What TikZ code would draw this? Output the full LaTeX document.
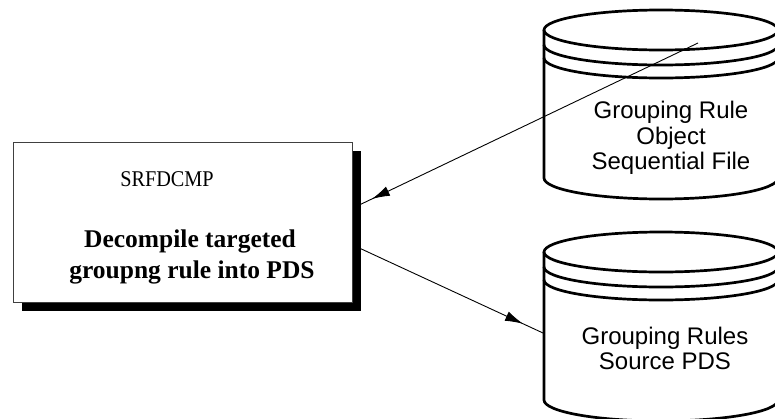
\documentclass[tikz,border=0pt]{standalone}
\usepackage{fontspec}
\setmainfont{Liberation Serif}
\newfontfamily\arialfont{Liberation Sans}
\usetikzlibrary{arrows.meta,decorations.markings}
\tikzset{
  cylline/.style={line width=2.7pt, line cap=round, line join=round},
  flowline/.style={line width=0.9pt},
  headA/.style={postaction={decorate}, decoration={markings, mark=at position -12pt with {\arrow{Latex[length=18pt,width=10pt]}}}},
  headB/.style={postaction={decorate}, decoration={markings, mark=at position -22pt with {\arrow{Latex[length=18pt,width=10pt]}}}},
  storetext/.style={font=\arialfont\fontsize{24}{25.5}\selectfont, align=center, inner sep=0pt, anchor=north},
  procbold/.style={font=\bfseries\fontsize{25.5}{31}\selectfont, anchor=base, inner sep=0pt},
}
\begin{document}
\begin{tikzpicture}[x=1pt,y=-1pt]
\path[use as bounding box] (0,0) rectangle (775,418);
\clip (0,0) rectangle (775,418);
\fill[white] (0,0) rectangle (775,418);

% process box with shadow
\node[fill=black, minimum width=339pt, minimum height=160pt, inner sep=0pt, outer sep=0pt, anchor=north west] (procshadow) at (22,151) {};
\node[draw=black!75, line width=0.8pt, fill=white, minimum width=339pt, minimum height=160pt, inner sep=0pt, anchor=north west] (proc) at (13,142) {};
\node[font=\fontsize{22.5}{26}\selectfont, anchor=base, inner sep=0pt] (procid) at (167,186) {\scalebox{0.9}[1]{SRFDCMP}};
\node[procbold] (procl1) at (190,247) {Decompile targeted};
\node[procbold] (procl2) at (192,278) {groupng rule into PDS};

% top data store
\fill[white] (544,30) -- (544,178) arc[start angle=180,end angle=360,x radius=117pt,y radius=21pt] -- (778,30) -- cycle;
\draw[cylline] (661,30) ellipse [x radius=117pt, y radius=20pt];
\draw[cylline] (544,45) arc[start angle=180,end angle=360,x radius=117pt,y radius=20pt];
\draw[cylline] (544,58) arc[start angle=180,end angle=360,x radius=117pt,y radius=20pt];
\draw[cylline] (544,30) -- (544,178) arc[start angle=180,end angle=360,x radius=117pt,y radius=21pt] -- (778,30);
\node[storetext] (objfile) at (671,101) {Grouping Rule\\Object\\Sequential File};

% bottom data store
\draw[cylline] (661,252) ellipse [x radius=117pt, y radius=20pt];
\draw[cylline] (544,267) arc[start angle=180,end angle=360,x radius=117pt,y radius=20pt];
\draw[cylline] (544,280) arc[start angle=180,end angle=360,x radius=117pt,y radius=20pt];
\draw[cylline] (544,252) -- (544,400) arc[start angle=180,end angle=360,x radius=117pt,y radius=21pt] -- (778,252);
\node[storetext] (srcpds) at (665,326.5) {Grouping Rules\\Source PDS};

% connectors
\coordinate (objtap) at (698,43);
\coordinate (pdsside) at (543,333);
\draw[flowline, headA] (objtap) -- (procshadow.9.7);
\draw[flowline, headB] (procshadow.-6) -- (pdsside);
\end{tikzpicture}
\end{document}
